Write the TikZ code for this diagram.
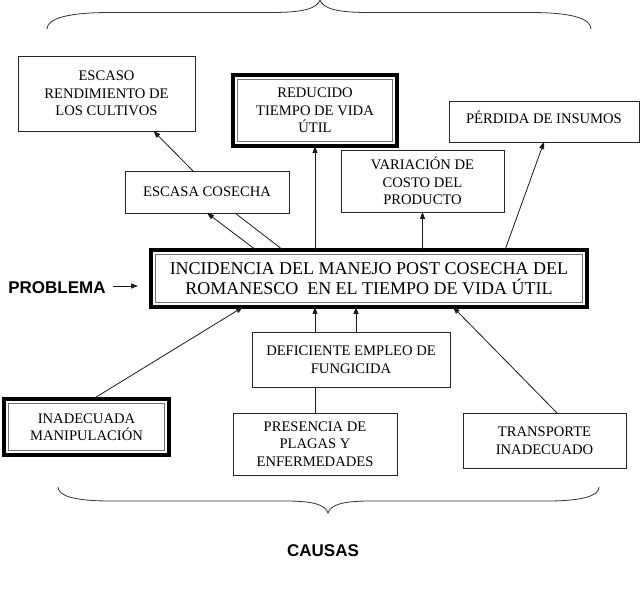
\documentclass[tikz,border=0pt]{standalone}
\usepackage{fontspec}
\setmainfont{Liberation Serif}
\newfontfamily\headfont{Liberation Sans}
\usetikzlibrary{arrows.meta}

\tikzset{
  box/.style={draw=black!85, line width=0.8pt, outer sep=0pt, align=center, inner sep=2pt,
    font=\fontsize{14.6}{17.5}\selectfont},
  heavybox/.style={box, draw=black, line width=4pt},
  flecha/.style={-{Triangle[length=7pt,width=5pt]}, line width=0.8pt, black!90},
  enlace/.style={line width=0.8pt, black!90},
  rotulo/.style={font=\headfont\bfseries\fontsize{17}{20}\selectfont}
}

\begin{document}
\begin{tikzpicture}[x=1pt, y=-1pt]
    \useasboundingbox (0,0) rectangle (643,593);

    % Effects (top row)
    \node[box, minimum width=177pt, minimum height=75pt] (escaso) at (106.5,93.5) {ESCASO\\RENDIMIENTO DE\\LOS CULTIVOS};
    \node[heavybox, minimum width=164pt, minimum height=71pt] (reducido) at (315,110.5) {REDUCIDO\\TIEMPO DE VIDA\\ÚTIL};
    \node[box, minimum width=190pt, minimum height=41pt, text depth=9pt] (perdida) at (544,121.5) {PÉRDIDA DE INSUMOS};
    \node[box, minimum width=164pt, minimum height=42pt] (cosecha) at (207,192) {ESCASA COSECHA};
    \node[box, minimum width=163pt, minimum height=62pt] (variacion) at (422.5,181) {VARIACIÓN DE\\COSTO DEL\\PRODUCTO};

    % Problem
    \node[heavybox, minimum width=436pt, minimum height=57pt,
          font=\fontsize{18}{19.5}\selectfont] (main) at (369,278.5)
          {INCIDENCIA DEL MANEJO POST COSECHA DEL\\ROMANESCO \ EN EL TIEMPO DE VIDA ÚTIL};
    \node[rotulo] (problema) at (57,288) {PROBLEMA};

    % Causes (bottom row)
    \node[box, minimum width=198pt, minimum height=55pt] (deficiente) at (351,359.5) {DEFICIENTE EMPLEO DE\\FUNGICIDA};
    \node[heavybox, minimum width=165pt, minimum height=56pt] (inadecuada) at (86.5,427) {INADECUADA\\MANIPULACIÓN};
    \node[box, minimum width=164pt, minimum height=62pt] (presencia) at (315,444) {PRESENCIA DE\\PLAGAS Y\\ENFERMEDADES};
    \node[box, minimum width=163pt, minimum height=55pt] (transporte) at (544.5,440.5) {TRANSPORTE\\INADECUADO};
    \node[rotulo] (causas) at (323,551) {CAUSAS};

    % Inner thin frame of the heavy boxes
    \foreach \n in {reducido, main, inadecuada}
      \draw[black!55, line width=0.7pt] ([shift={(4.5pt,-4.5pt)}]\n.north west) rectangle ([shift={(-4.5pt,4.5pt)}]\n.south east);

    % Connectors upwards
    \draw[flecha] ([xshift=-113pt]main.north) -- (cosecha.south);
    \draw[enlace] ([xshift=-86pt]main.north) -- ([xshift=28pt]cosecha.south);
    \draw[flecha] ([xshift=-14pt]cosecha.north) -- ([xshift=47pt]escaso.south);
    \draw[flecha] (main.north -| reducido.south) -- (reducido.south);
    \draw[flecha] (main.north -| variacion.south) -- (variacion.south);
    \draw[flecha] ([xshift=136pt]main.north) -- (perdida.south);
    \draw[flecha] ([shift={(4pt,2pt)}]problema.east) -- ([shift={(-13pt,2pt)}]main.west |- problema.east);

    % Connectors from the causes
    \draw[flecha] ([xshift=6.5pt]inadecuada.north) -- ([xshift=-126pt]main.south);
    \draw[flecha] (deficiente.north -| presencia.north) -- (main.south -| presencia.north);
    \draw[flecha] ([xshift=5pt]deficiente.north) -- ([xshift=-13pt]main.south);
    \draw[enlace] (presencia.north) -- (presencia.north |- deficiente.south);
    \draw[flecha] ([xshift=12.5pt]transporte.north) -- ([xshift=84pt]main.south);

    % Braces
    \draw[black!80, line width=0.8pt] (47,29) .. controls (47,18) and (70,12.5) .. (110,12.5) -- (272,12.5)
        .. controls (305,12.5) and (317,8) .. (320,0) .. controls (323,8) and (335,12.5) .. (368,12.5)
        -- (530,12.5) .. controls (570,12.5) and (591,18) .. (591,29);
    \draw[black!80, line width=0.8pt] (58,487) .. controls (58,496) and (75,501) .. (110,501) -- (285,501)
        .. controls (315,501) and (325,505) .. (328,513) .. controls (331,505) and (341,501) .. (371,501)
        -- (547,501) .. controls (582,501) and (599,496) .. (599,487);
\end{tikzpicture}
\end{document}
